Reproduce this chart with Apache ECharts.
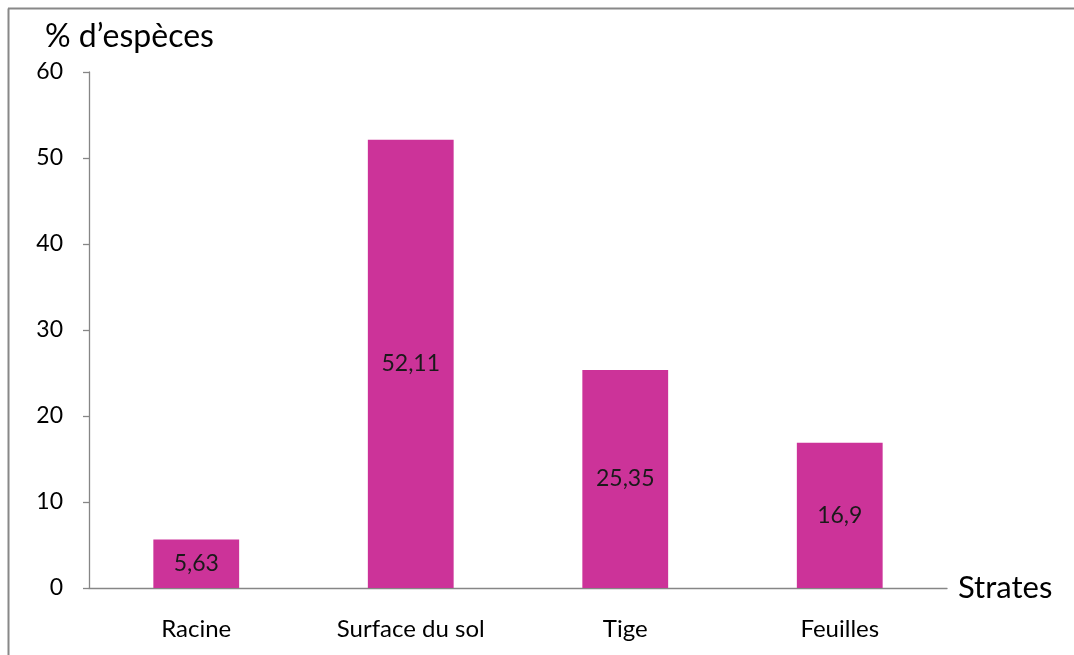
<!DOCTYPE html>
<html>
<head>
<meta charset="utf-8">
<script src="https://cdn.jsdelivr.net/npm/echarts@6/dist/echarts.min.js"></script>
<style>
  html, body { margin: 0; padding: 0; background: #fff; }
  #chart { width: 1074px; height: 655px; }
</style>
</head>
<body>
<div id="chart"></div>
<script>
// Répartition des espèces par strate
const categories = ['Racine', 'Surface du sol', 'Tige', 'Feuilles'];
const values = [5.63, 52.11, 25.35, 16.9];
const yTicks = [0, 10, 20, 30, 40, 50, 60];

const FONT = 'Lato, "Open Sans", sans-serif';
const AXIS_COLOR = '#868686';

const chart = echarts.init(document.getElementById('chart'), null, { renderer: 'canvas' });

chart.setOption({
  animation: false,
  backgroundColor: '#ffffff',
  title: {
    text: '% d’espèces',
    left: 40,
    top: 16,
    textStyle: { fontFamily: FONT, fontSize: 32, fontWeight: 'normal', color: '#000' }
  },
  graphic: [
    // outer frame (left and top edges)
    { type: 'line', shape: { x1: 8.5, y1: 8.5, x2: 8.5, y2: 655 }, style: { stroke: '#888', lineWidth: 2 } },
    { type: 'line', shape: { x1: 8, y1: 8.5, x2: 1074, y2: 8.5 }, style: { stroke: '#888', lineWidth: 2 } }
  ],
  grid: { left: 89, right: 127, top: 72, bottom: 67, containLabel: false },
  xAxis: {
    type: 'category',
    data: categories,
    name: 'Strates',
    nameLocation: 'end',
    nameGap: 11,
    nameTextStyle: { fontFamily: FONT, fontSize: 31, color: '#000', align: 'left', verticalAlign: 'middle' },
    axisLine: { lineStyle: { color: AXIS_COLOR, width: 1.3 } },
    axisTick: { alignWithLabel: false, length: 6, lineStyle: { color: AXIS_COLOR, width: 1.3 } },
    axisLabel: { fontFamily: FONT, fontSize: 24, color: '#000', margin: 29 }
  },
  yAxis: {
    type: 'value',
    min: yTicks[0],
    max: yTicks[yTicks.length - 1],
    interval: 10,
    axisLine: { show: true, lineStyle: { color: AXIS_COLOR, width: 1.3 } },
    axisTick: { show: true, length: 6, lineStyle: { color: AXIS_COLOR, width: 1.3 } },
    splitLine: { show: false },
    axisLabel: { fontFamily: FONT, fontSize: 23, color: '#000', margin: 26 }
  },
  series: [{
    type: 'bar',
    data: values,
    barWidth: '40%',
    itemStyle: { color: '#CC3399' },
    label: {
      show: true,
      position: 'inside',
      fontFamily: FONT,
      fontSize: 23,
      color: '#1a1a1a',
      formatter: p => String(p.value).replace('.', ',')
    }
  }]
});
</script>
</body>
</html>
